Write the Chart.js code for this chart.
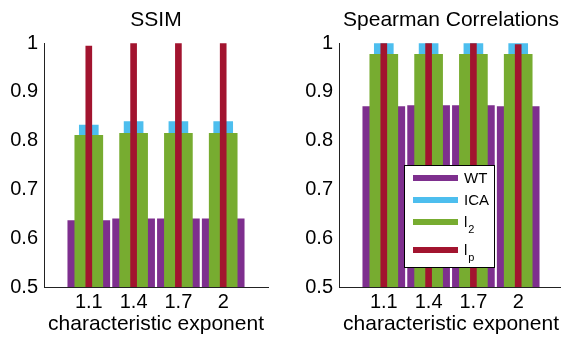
<!DOCTYPE html>
<html>
<head>
<meta charset="utf-8">
<script src="https://cdn.jsdelivr.net/npm/chart.js@4.4.1/dist/chart.umd.min.js"></script>
<style>
    html, body { margin: 0; padding: 0; background: #fff; }
    #wrap { position: relative; width: 561px; height: 337px; overflow: hidden; }
    #ssimChart { position: absolute; left: 0; top: 0; }
    #spearmanChart { position: absolute; left: 280px; top: 0; }
</style>
</head>
<body>
<div id="wrap">
    <canvas id="ssimChart" width="280" height="337"></canvas>
    <canvas id="spearmanChart" width="290" height="337"></canvas>
</div>
<script>
// characteristic exponent values on the x axis
var categories = ['1.1', '1.4', '1.7', '2'];
var seriesNames = ['WT', 'ICA', 'l_2', 'l_p'];
var yTicks = [0.5, 0.6, 0.7, 0.8, 0.9, 1];

// SSIM
var ssimWT = [0.636, 0.640, 0.640, 0.640];
var ssimICA = [0.832, 0.839, 0.839, 0.839];
var ssimL2 = [0.811, 0.815, 0.815, 0.815];
var ssimLp = [0.994, 1.0, 1.0, 1.0];

// Spearman correlations
var spearWT = [0.870, 0.872, 0.872, 0.870];
var spearICA = [1.0, 1.0, 1.0, 1.0];
var spearL2 = [0.977, 0.977, 0.977, 0.977];
var spearLp = [1.0, 1.0, 1.0, 0.997];

var seriesColors = ['#7E2F8E', '#4DBEEE', '#77AC30', '#A2142F'];
var barWidths = [42, 19, 28, 6];
var fontFamily = '"Liberation Sans", Arial, Helvetica, sans-serif';

Chart.defaults.color = '#000';
Chart.defaults.font.family = fontFamily;

// legend drawn inside the plot area, like the matlab one
var legendBox = {
    id: 'legendBox',
    afterDatasetsDraw: function (chart) {
        var ctx = chart.ctx;
        var x = chart.chartArea.left + 65, y = 165, w = 90, h = 102;
        var rows = [13, 35, 57, 85];
        ctx.save();
        ctx.fillStyle = '#fff';
        ctx.fillRect(x, y, w, h);
        ctx.strokeStyle = '#000';
        ctx.lineWidth = 1;
        ctx.strokeRect(x + 0.5, y + 0.5, w, h);
        seriesNames.forEach(function (name, i) {
            var ry = y + rows[i];
            ctx.fillStyle = seriesColors[i];
            ctx.fillRect(x + 9, ry - 3, 45, 6);
            var parts = name.split('_');
            ctx.fillStyle = '#000';
            ctx.textBaseline = 'middle';
            ctx.textAlign = 'left';
            ctx.font = '15px ' + fontFamily;
            ctx.fillText(parts[0], x + 60, ry + 1);
            if (parts[1]) {
                var bw = ctx.measureText(parts[0]).width;
                ctx.font = '11px ' + fontFamily;
                ctx.fillText(parts[1], x + 60 + bw + 1, ry + 8);
            }
        });
        ctx.restore();
    }
};

function createBarChart(canvasId, title, values, yAxisWidth, padRight, withLegend) {
    var datasets = seriesNames.map(function (name, i) {
        return {
            label: name,
            data: [null].concat(values[i], [null]),
            backgroundColor: seriesColors[i],
            barThickness: barWidths[i],
            borderWidth: 0,
            order: seriesNames.length - i
        };
    });

    var config = {
        type: 'bar',
        data: {
            labels: [''].concat(categories, ['']),
            datasets: datasets
        },
        options: {
            responsive: false,
            animation: false,
            devicePixelRatio: 1,
            layout: { padding: { top: 0, right: padRight, bottom: 0, left: 0 } },
            datasets: { bar: { grouped: false } },
            plugins: {
                legend: { display: false },
                tooltip: { enabled: false },
                title: {
                    display: true,
                    text: title,
                    fullSize: false,
                    color: '#000',
                    font: { size: 21, weight: 'normal', lineHeight: 1.2 },
                    padding: { top: 8, bottom: 10 }
                }
            },
            scales: {
                x: {
                    offset: false,
                    grid: { display: false, drawTicks: false },
                    border: { display: true, color: '#222', width: 1 },
                    ticks: { font: { size: 20 }, padding: 3, maxRotation: 0, autoSkip: false },
                    title: {
                        display: true,
                        text: 'characteristic exponent',
                        font: { size: 21, lineHeight: 1.2 },
                        padding: 0
                    },
                    afterFit: function (scale) { scale.height = 50; }
                },
                y: {
                    min: 0.5,
                    max: 1,
                    grid: { display: false, drawTicks: false },
                    border: { display: true, color: '#222', width: 1 },
                    afterBuildTicks: function (scale) {
                        scale.ticks = yTicks.map(function (v) { return { value: v }; });
                    },
                    ticks: {
                        font: { size: 20 },
                        padding: 6,
                        callback: function (value) { return String(value); }
                    },
                    afterFit: function (scale) { scale.width = yAxisWidth; }
                }
            }
        },
        plugins: withLegend ? [legendBox] : []
    };

    return new Chart(document.getElementById(canvasId), config);
}

createBarChart('ssimChart', 'SSIM', [ssimWT, ssimICA, ssimL2, ssimLp], 44, 12, false);
createBarChart('spearmanChart', 'Spearman Correlations', [spearWT, spearICA, spearL2, spearLp], 59, 7, true);
</script>
</body>
</html>
